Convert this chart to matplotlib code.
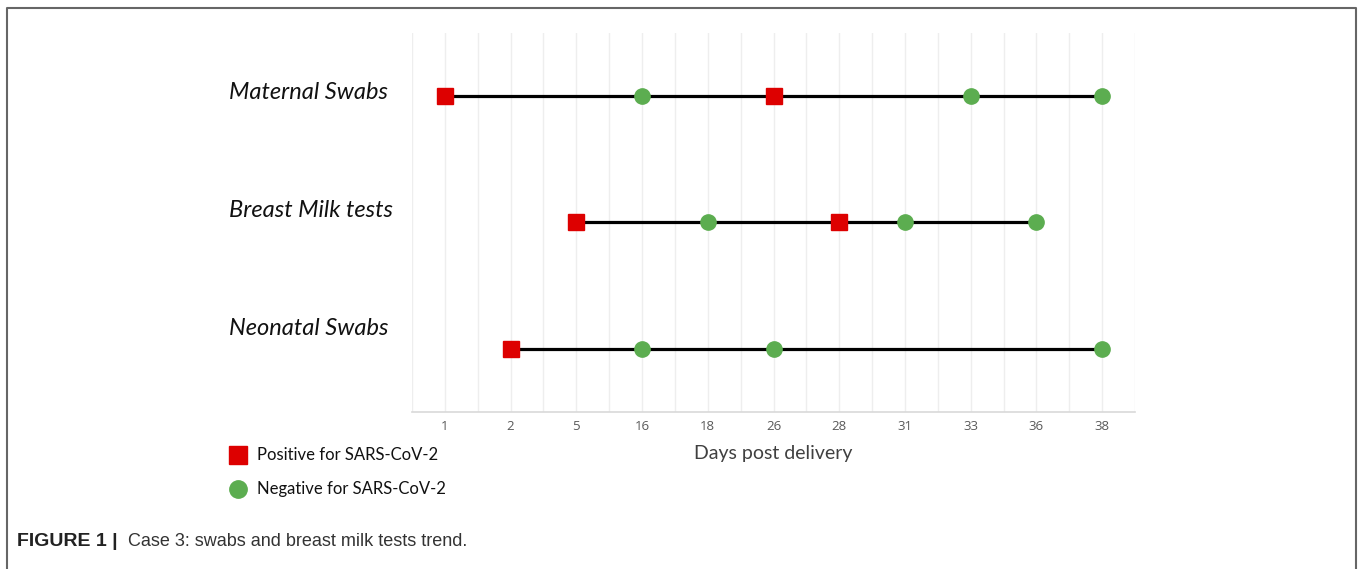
import matplotlib
matplotlib.use("Agg")
import matplotlib.pyplot as plt
from matplotlib.lines import Line2D
import numpy as np

# ---- data ----
days = [1, 2, 5, 16, 18, 26, 28, 31, 33, 36, 38]
rows = ["Maternal Swabs", "Breast Milk tests", "Neonatal Swabs"]
maternal_days = [1, 16, 26, 33, 38]
maternal_pos = [True, False, True, False, False]
milk_days = [5, 18, 28, 31, 36]
milk_pos = [True, False, True, False, False]
neonatal_days = [2, 16, 26, 38]
neonatal_pos = [True, False, False, False]

series = [(maternal_days, maternal_pos), (milk_days, milk_pos), (neonatal_days, neonatal_pos)]
row_y = [3, 2, 1]
label_offsets = [0.03, 0.095, 0.16]

RED = "#DD0000"
GREEN = "#5CAD50"

fig = plt.figure(figsize=(13.58, 5.69), dpi=100)
ax = fig.add_axes([412/1358, 1-412/569, (1135-412)/1358, (412-33)/569])

ax.set_xlim(-0.5, len(days) - 0.5)
ax.set_ylim(0.5, 3.5)

for (d, pos), y in zip(series, row_y):
    xs = [days.index(v) for v in d]
    ax.plot(xs, [y]*len(xs), color="black", lw=2.3, zorder=2)
    for x, p in zip(xs, pos):
        if p:
            ax.plot(x, y, marker="s", ms=11.5, color=RED, mec=RED, zorder=3)
        else:
            ax.plot(x, y, marker="o", ms=11, color=GREEN, mec=GREEN, zorder=3)

ax.set_xticks(range(len(days)))
ax.set_xticklabels([str(v) for v in days], fontsize=9.5, color="#595959", family="Open Sans")
ax.set_xticks(np.arange(-0.5, len(days), 1.0), minor=True)
ax.tick_params(axis="x", which="both", length=0, pad=6)
ax.set_yticks([])
ax.grid(True, axis="x", which="both", color="#EEEEEE", lw=1)
ax.set_axisbelow(True)
for s in ["top", "left", "right"]:
    ax.spines[s].set_visible(False)
ax.spines["bottom"].set_color("#D9D9D9")
ax.spines["bottom"].set_linewidth(1.2)

for name, y, off in zip(rows, row_y, label_offsets):
    ax.annotate(name, xy=(229/1358, y + off), xycoords=("figure fraction", "data"),
                ha="left", va="center", fontsize=17, style="italic", family="Lato",
                color="#111111")

fig.text(773/1358, 1-453/569, "Days post delivery", ha="center", va="center",
         fontsize=14, color="#404040", family="Lato")

# legend
leg_items = [("s", RED, "Positive for SARS-CoV-2", 455, 12.5),
             ("o", GREEN, "Negative for SARS-CoV-2", 489, 12.5)]
for m, c, t, ypx, ms in leg_items:
    fig.add_artist(Line2D([238/1358], [1-ypx/569], marker=m, ms=ms, color=c, mec=c,
                          transform=fig.transFigure, linestyle="none"))
    fig.text(257/1358, 1-ypx/569, t, ha="left", va="center", fontsize=12,
             family="Lato", color="#111111")

# caption
fig.text(17/1358, 1-541/569, "FIGURE 1 |", ha="left", va="center", fontsize=14,
         weight="bold", family="Liberation Sans", color="#222222")
fig.text(128/1358, 1-541/569, "Case 3: swabs and breast milk tests trend.", ha="left",
         va="center", fontsize=13, family="Liberation Sans", color="#333333")

# border
fig.add_artist(Line2D([7/1358, 7/1358, 1356/1358, 1356/1358], [0, 1-8/569, 1-8/569, 0],
                      transform=fig.transFigure, color="#666666", lw=1.5))

fig.savefig("out.png", dpi=100)
